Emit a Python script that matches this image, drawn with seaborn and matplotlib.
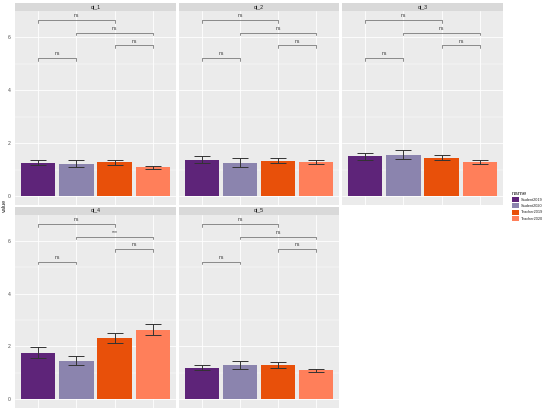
import matplotlib
matplotlib.use("Agg")
import matplotlib.pyplot as plt
from matplotlib.patches import Rectangle, Patch
import seaborn as sns
import pandas as pd
import numpy as np

questions = ["qi_1", "qi_2", "qi_3", "qi_4", "qi_5"]
groups = ["Student2019", "Student2020", "Teacher2019", "Teacher2020"]
colors = ["#5E2479", "#8B84AE", "#E8500A", "#FF7F5A"]

mean_qi_1 = [1.26, 1.22, 1.27, 1.08]
mean_qi_2 = [1.37, 1.26, 1.33, 1.28]
mean_qi_3 = [1.50, 1.56, 1.45, 1.27]
mean_qi_4 = [1.76, 1.43, 2.30, 2.64]
mean_qi_5 = [1.19, 1.31, 1.28, 1.09]

low_qi_1 = [1.16, 1.11, 1.18, 1.04]
low_qi_2 = [1.25, 1.11, 1.23, 1.20]
low_qi_3 = [1.38, 1.40, 1.35, 1.22]
low_qi_4 = [1.55, 1.28, 2.11, 2.45]
low_qi_5 = [1.12, 1.14, 1.19, 1.03]

high_qi_1 = [1.38, 1.35, 1.38, 1.13]
high_qi_2 = [1.51, 1.42, 1.45, 1.37]
high_qi_3 = [1.61, 1.72, 1.55, 1.35]
high_qi_4 = [1.99, 1.62, 2.51, 2.85]
high_qi_5 = [1.31, 1.46, 1.40, 1.15]

# significance comparisons (group index pairs) and bracket heights
comparisons = [(0, 1), (2, 3), (1, 3), (0, 2)]
bracket_y = [5.21, 5.69, 6.16, 6.64]
sig_qi_1 = ["ns", "ns", "ns", "ns"]
sig_qi_2 = ["ns", "ns", "ns", "ns"]
sig_qi_3 = ["ns", "ns", "ns", "ns"]
sig_qi_4 = ["ns", "ns", "***", "ns"]
sig_qi_5 = ["ns", "ns", "ns", "ns"]

y_ticks = [0, 2, 4, 6]

means = [mean_qi_1, mean_qi_2, mean_qi_3, mean_qi_4, mean_qi_5]
lows = [low_qi_1, low_qi_2, low_qi_3, low_qi_4, low_qi_5]
highs = [high_qi_1, high_qi_2, high_qi_3, high_qi_4, high_qi_5]
sigs = [sig_qi_1, sig_qi_2, sig_qi_3, sig_qi_4, sig_qi_5]

rows = []
for q, m, lo, hi in zip(questions, means, lows, highs):
    for g, v, l, h in zip(groups, m, lo, hi):
        rows.append({"question": q, "name": g, "value": v, "lo": l, "hi": h})
df = pd.DataFrame(rows)

sns.set_theme(style="white")
plt.rcParams["font.family"] = ["Liberation Sans", "DejaVu Sans"]

W, H = 550, 416
fig = plt.figure(figsize=(W / 100, H / 100), dpi=100)

col_x = [(15, 176), (179, 339), (342, 503)]
row_y = [(11, 205), (215, 408)]
strip_h = 8

palette = dict(zip(groups, colors))

for i, q in enumerate(questions):
    r, c = divmod(i, 3)
    x0, x1 = col_x[c]
    y0, y1 = row_y[r]
    ax = fig.add_axes([x0 / W, 1 - y1 / H, (x1 - x0) / W, (y1 - y0) / H])
    ax.set_facecolor("#EBEBEB")
    sub = df[df["question"] == q]
    sns.barplot(data=sub, x="name", y="value", hue="name", palette=palette,
                order=groups, hue_order=groups, dodge=False, width=0.9,
                saturation=1, errorbar=None, legend=False, ax=ax, zorder=3,
                linewidth=0)
    xs = np.arange(len(groups))
    vals = sub["value"].to_numpy()
    lo = sub["lo"].to_numpy()
    hi = sub["hi"].to_numpy()
    ax.errorbar(xs, vals, yerr=[vals - lo, hi - vals], fmt="none",
                ecolor="#333333", elinewidth=0.7, capsize=5.5, capthick=0.7,
                zorder=4)
    # significance brackets
    for (a, b), yb, s in zip(comparisons, bracket_y, sigs[i]):
        ax.plot([a, a, b, b], [yb - 0.1, yb, yb, yb - 0.1], color="#7a7a7a",
                lw=0.6, zorder=5)
        ax.text((a + b) / 2, yb + 0.06, s, ha="center", va="bottom",
                fontsize=3.6, color="#333333", zorder=6)
    ax.set_xlim(-0.6, 3.6)
    ax.set_ylim(-0.335, 6.98)
    ax.set_yticks(y_ticks)
    ax.set_yticks([1, 3, 5], minor=True)
    ax.grid(True, which="major", color="white", lw=0.6, zorder=0)
    ax.grid(True, which="minor", axis="y", color="white", lw=0.3, zorder=0)
    ax.set_axisbelow(True)
    for sp in ax.spines.values():
        sp.set_visible(False)
    ax.set_xlabel("")
    ax.set_ylabel("")
    ax.set_xticks(xs)
    ax.set_xticklabels([])
    ax.tick_params(axis="both", which="major", length=2, width=0.4,
                   color="#333333", labelsize=3.6, labelcolor="#4D4D4D", pad=1)
    ax.tick_params(axis="both", which="minor", length=0)
    if c != 0:
        ax.tick_params(axis="y", length=0, labelleft=False)
    # x ticks shown only on panels with nothing below
    if r == 0 and c < 2:
        ax.tick_params(axis="x", length=0)
    # facet strip
    sh = strip_h / (y1 - y0)
    ax.add_patch(Rectangle((0, 1), 1, sh, transform=ax.transAxes,
                           facecolor="#D9D9D9", edgecolor="none",
                           clip_on=False, zorder=1))
    ax.text(0.5, 1 + sh / 2, q, transform=ax.transAxes, ha="center",
            va="center", fontsize=3.8, color="#1A1A1A")

fig.text(4 / W, 1 - 205 / H, "value", rotation=90, ha="center",
         va="center", fontsize=4, color="#1A1A1A")

handles = [Patch(facecolor=col, edgecolor="none") for col in colors]
leg = fig.legend(handles, groups, title="name", loc="upper left",
                 bbox_to_anchor=(510 / W, 1 - 189 / H), frameon=False,
                 fontsize=2.8, title_fontsize=4.4, handlelength=2.0,
                 handleheight=1.6, labelspacing=0.35, handletextpad=0.3,
                 borderaxespad=0)
leg._legend_box.align = "left"

fig.savefig("out.png", dpi=100, facecolor="white")
